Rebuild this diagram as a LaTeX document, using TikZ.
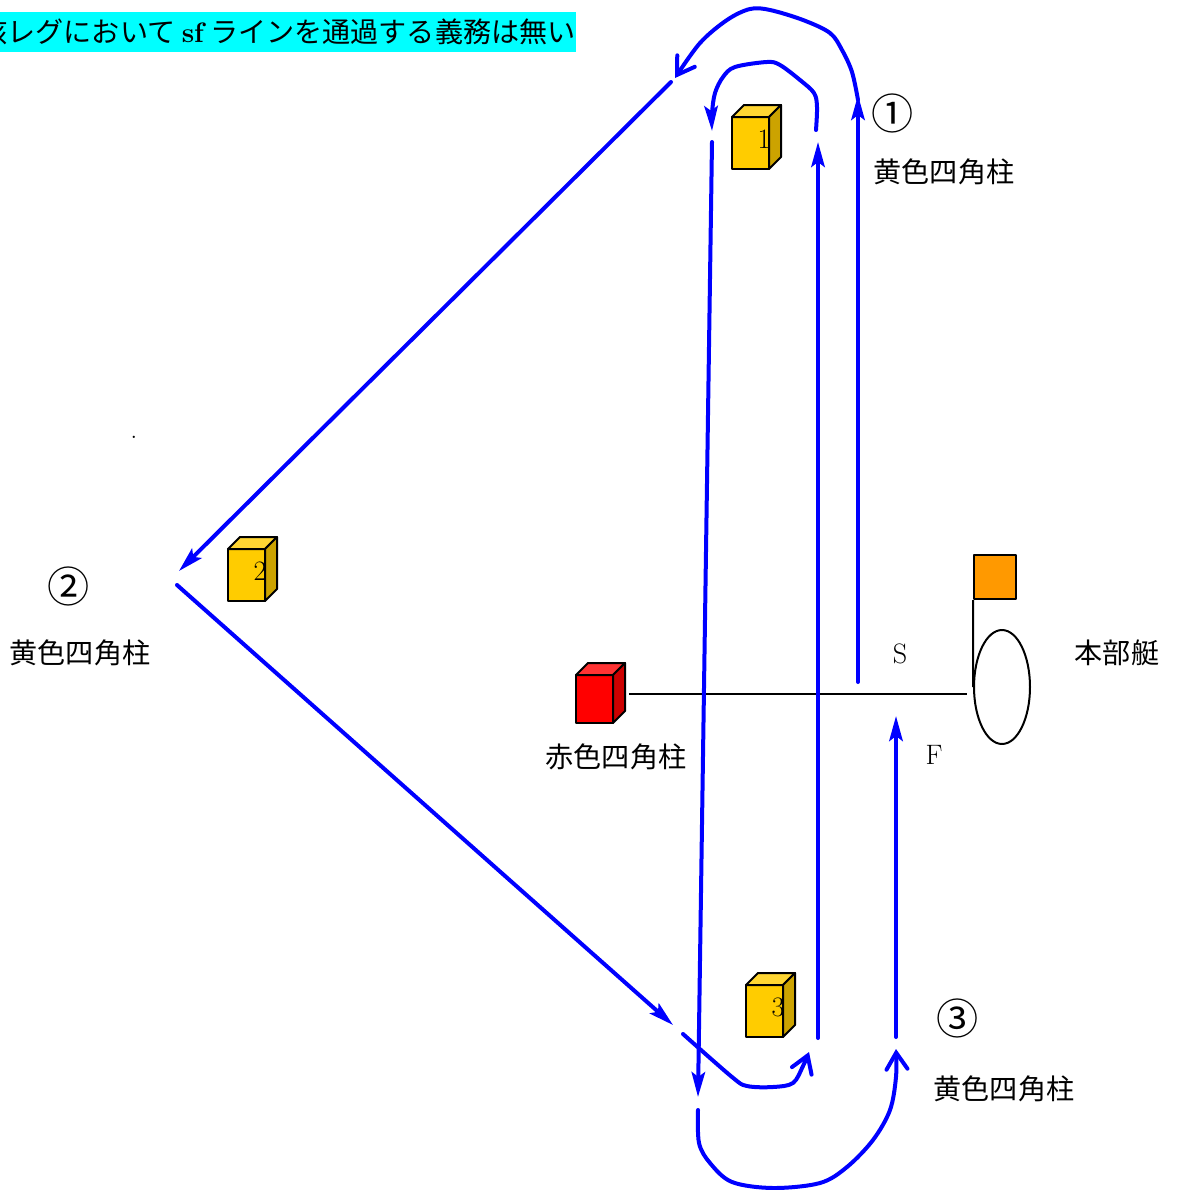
\documentclass[tikz,border=0pt]{standalone}
\usepackage{fontspec}
\newfontfamily\jpfont{Noto Sans CJK JP}
\usetikzlibrary{arrows.meta,shapes.geometric}
\definecolor{notecol}{HTML}{00FFFF}
\definecolor{pillarY}{HTML}{FFCC00}
\definecolor{pillarYtop}{HTML}{FFD633}
\definecolor{pillarYside}{HTML}{CCA300}
\definecolor{pillarRtop}{HTML}{FF3333}
\definecolor{pillarRside}{HTML}{CC0000}
\definecolor{flagcol}{HTML}{FF9900}
\tikzset{
	leg/.style={draw=blue, line width=.08cm, line cap=round, line join=round},
	tipS/.style={-{Stealth[length=.5cm,width=.27cm,inset=.1cm]}},
	tipB/.style={-{Straight Barb[length=.33cm,width=.42cm,line cap=round]}},
	jp/.style={font=\fontsize{16}{19}\selectfont\jpfont, inner sep=0pt},
	mark no/.style={font=\fontsize{24}{27}\selectfont\jpfont, inner sep=0pt},
	ltr/.style={inner sep=0pt},
	edge/.style={draw, line width=.04cm, line join=round},
}
\begin{document}
\begin{tikzpicture}[x=.02cm, y=-.02cm, font=\fontsize{16}{19}\selectfont, line join=round]
	\useasboundingbox (0,0) rectangle (1177,1190);
	\node[jp, fill=notecol, anchor=east, minimum height=.8cm, inner xsep=0pt] (note) at (576,32) {当該レグにおいて {\rmfamily\bfseries sf} ラインを通過する義務は無い};
	\node[ltr, anchor=base] (dot) at (134,438) {.};
	% pillars
	\foreach \name/\x/\y/\n in {one/732/117/1, two/228/549/2, three/746/985/3}{
		\draw[edge, fill=pillarY] (\x,\y) rectangle ++(37,52);
		\draw[edge, fill=pillarYtop] (\x,\y) -- ++(12,-12) -- ++(37,0) -- ++(-12,12) -- cycle;
		\draw[edge, fill=pillarYside] (\x+37,\y) -- ++(12,-12) -- ++(0,52) -- ++(-12,12) -- cycle;
		\node[ltr] (\name) at (\x+32,\y+22) {\n};
	}
	\draw[edge, fill=red] (576,675) rectangle (613,723);
	\draw[edge, fill=pillarRtop] (576,675) -- (588,663) -- (625,663) -- (613,675) -- cycle;
	\draw[edge, fill=pillarRside] (613,675) -- (625,663) -- (625,711) -- (613,723) -- cycle;
	% boat and flag
	\node[draw, line width=.04cm, ellipse, minimum width=1.12cm, minimum height=2.28cm, inner sep=0pt] (boat) at (1002,687) {};
	\node[draw, line width=.04cm, fill=flagcol, minimum width=.84cm, minimum height=.88cm, inner sep=0pt] (flag) at (995,577) {};
	\draw[edge] (flag.south west) -- (boat.west);
	\coordinate (lineL) at (629,693.5);
	\coordinate (lineR) at (967,693.5);
	\draw[edge] (lineL) -- (lineR);
	% labels
	\node[mark no] (m1) at (893,113) {①};
	\node[mark no] (m2) at (69,586) {②};
	\node[mark no] (m3) at (958,1018) {③};
	\foreach \name/\x/\y in {l1/944/172, l2/80/653, l3/1004/1089}
		\node[jp] (\name) at (\x,\y) {黄色四角柱};
	\node[jp] (lred) at (616,757) {赤色四角柱};
	\node[jp] (lboat) at (1117,653) {本部艇};
	\node[ltr] (S) at (900,654) {S};
	\node[ltr] (F) at (934,755) {F};
	% the course
	\coordinate (a0) at (858,682); \coordinate (a1) at (858,95);
	\coordinate (b0) at (858,100);  \coordinate (b1) at (675,78);
	\coordinate (c0) at (671,82);  \coordinate (c1) at (179,571);
	\coordinate (d0) at (177,585); \coordinate (d1) at (673,1025);
	\coordinate (e0) at (683,1034); \coordinate (e1) at (809,1052);
	\coordinate (f0) at (818,1038); \coordinate (f1) at (818,142);
	\coordinate (g0) at (816,130); \coordinate (g1) at (712,131);
	\coordinate (h0) at (712,142); \coordinate (h1) at (698,1097);
	\coordinate (i0) at (698,1110); \coordinate (i1) at (896,1049);
	\coordinate (j0) at (896,1037); \coordinate (j1) at (896,716);
	\foreach \p/\q in {a0/a1, c0/c1, d0/d1, f0/f1, h0/h1, j0/j1}
		\draw[leg, tipS] (\p) -- (\q);
	\draw[leg, tipB] plot[smooth, tension=.55] coordinates {(b0) (852,72) (842,50) (830,33) (803,20) (770,10) (750,9) (727,20) (700,43) (b1)};
	\draw[leg, tipS] plot[smooth, tension=.55] coordinates {(g0) (817,107) (814,93) (800,80) (780,65) (767,62) (735,67) (723,77) (715,93) (712,113) (g1)};
	\draw[leg, tipB] plot[smooth, tension=.55] coordinates {(e0) (732,1077) (747,1086) (773,1087) (793,1083) (803,1066) (e1)};
	\draw[leg, tipB] plot[smooth, tension=.55] coordinates {(i0) (699,1143) (710,1163) (732,1182) (773,1188) (820,1183) (847,1167) (873,1140) (890,1110) (896,1077) (i1)};
\end{tikzpicture}
\end{document}
